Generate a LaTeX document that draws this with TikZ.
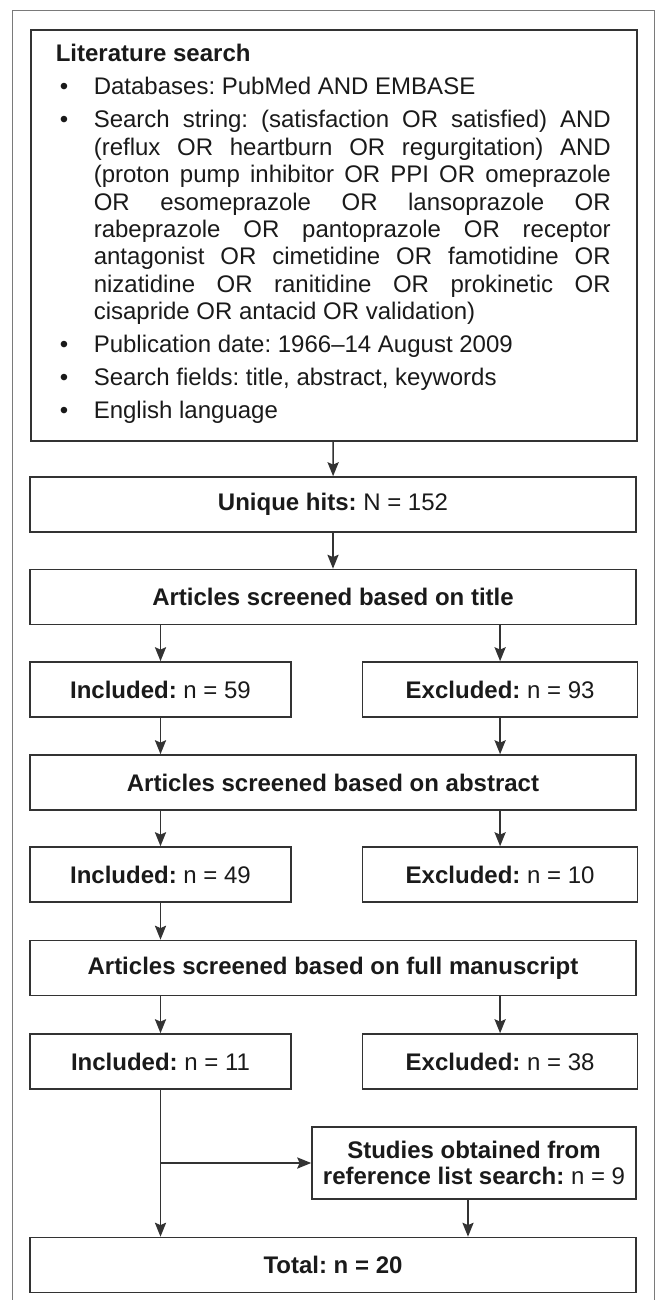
\documentclass[tikz,border=0pt]{standalone}
\usepackage{fontspec}
\setmainfont{Liberation Sans}
\usetikzlibrary{arrows.meta,positioning}
\definecolor{ink}{HTML}{1A1A1A}
\definecolor{rule}{HTML}{333333}
\definecolor{framegray}{HTML}{7A7A7A}
\newcommand{\bul}{\noindent\llap{\makebox[19pt][l]{\hspace{2pt}\textbullet}}}
\frenchspacing

\begin{document}
\begin{tikzpicture}[->,>={Stealth[length=7pt,width=5.6pt,inset=1.2pt]},x=0.5pt,y=-0.5pt,
    line width=0.8pt,color=rule,
    every node/.style={font=\fontsize{12}{13.4}\selectfont,text=ink},
    box/.style={draw,rectangle,inner sep=0pt,minimum height=27.5pt,minimum width=303pt},
    half/.style={box,minimum width=130.5pt},
    halfr/.style={box,minimum width=137.5pt}]

  \useasboundingbox (0,0) rectangle (658,1300);
  \draw[-,framegray,line width=0.5pt] (12,11) rectangle (654,1310);

  % search box
  \node[box,anchor=north west,minimum height=205.5pt] (lit) at (30,29) {};
  \node[anchor=base west,text width=277.5pt,align=justify,inner sep=0pt,
        font=\fontsize{12}{13.7}\selectfont] (littext) at (55,62) {%
    \setlength{\parskip}{2.8pt}%
    \textbf{Literature search}\par
    \leftskip=19pt
    \bul Databases: PubMed AND EMBASE\par
    \bul Search string: (satisfaction OR satisfied) AND\linebreak
    (reflux OR heartburn OR regurgitation) AND\linebreak
    (proton pump inhibitor OR PPI OR omeprazole\linebreak
    OR esomeprazole OR lansoprazole OR\linebreak
    rabeprazole OR pantoprazole OR receptor\linebreak
    antagonist OR cimetidine OR famotidine OR\linebreak
    nizatidine OR ranitidine OR prokinetic OR\linebreak
    cisapride OR antacid OR validation)\par
    \bul Publication date: 1966--14 August 2009\par
    \bul Search fields: title, abstract, keywords\par
    \bul English language\par};

  \node[box]                  (uniq)  at (333,504.5)    {\textbf{Unique hits:} N = 152};
  \node[box]                  (title) at (333,597)      {\textbf{Articles screened based on title}};
  \node[half]                 (inc1)  at (160.5,689.5)  {\textbf{Included:} n = 59};
  \node[halfr]                (exc1)  [right=35pt of inc1] {\textbf{Excluded:} n = 93};
  \node[box]                  (abs)   at (333,782.5)    {\textbf{Articles screened based on abstract}};
  \node[half]                 (inc2)  at (160.5,874.5)  {\textbf{Included:} n = 49};
  \node[halfr]                (exc2)  [right=35pt of inc2] {\textbf{Excluded:} n = 10};
  \node[box]                  (full)  at (333,968)      {\textbf{Articles screened based on full manuscript}};
  \node[half]                 (inc3)  at (160.5,1061.5) {\textbf{Included:} n = 11};
  \node[halfr]                (exc3)  [right=35pt of inc3] {\textbf{Excluded:} n = 38};
  \node[box,minimum width=162pt,minimum height=36pt,align=center]
                              (refs)  at (474,1163)     {\textbf{Studies obtained from}\\\textbf{reference list search:} n = 9};
  \node[box]                  (tot)   at (333,1265)     {\textbf{Total: n = 20}};

  \path (lit) edge (uniq)
        (uniq) edge (title)
        (title.south -| inc1) edge (inc1)
        (title.south -| exc1) edge (exc1)
        (inc1) edge (inc1 |- abs.north)
        (exc1) edge (exc1 |- abs.north)
        (abs.south -| inc2) edge (inc2)
        (abs.south -| exc2) edge (exc2)
        (inc2) edge (inc2 |- full.north)
        (full.south -| inc3) edge (inc3)
        (full.south -| exc3) edge (exc3)
        (inc3) edge (inc3 |- tot.north)
        (inc3 |- refs) edge (refs)
        ([xshift=-3pt]refs.south) edge ([xshift=-3pt]refs.south |- tot.north);
\end{tikzpicture}
\end{document}
